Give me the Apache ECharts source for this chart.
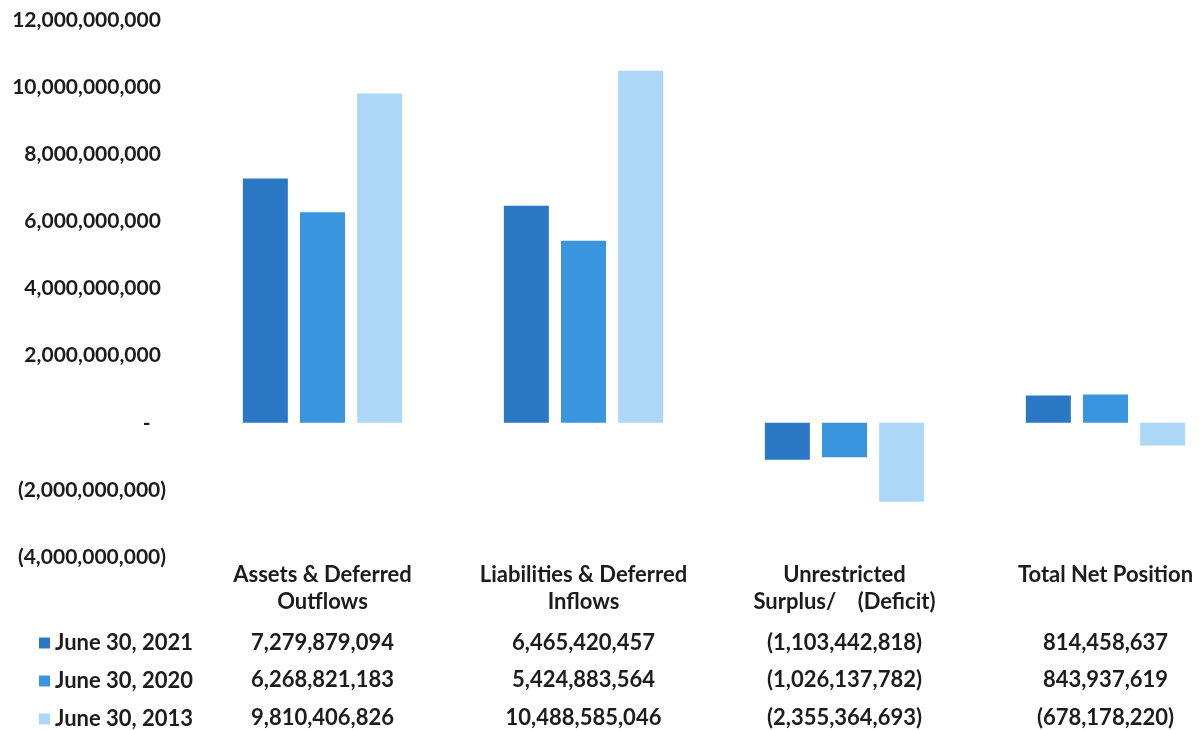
<!DOCTYPE html>
<html>
<head>
<meta charset="utf-8">
<script src="https://cdn.jsdelivr.net/npm/echarts@6/dist/echarts.min.js"></script>
<style>
  html, body { margin: 0; padding: 0; background: #ffffff; overflow: hidden; }
  /* the plot runs slightly past the right edge of the window */
  #chart { width: 1240px; height: 730px; }
</style>
</head>
<body>
<div id="chart"></div>
<script>
// Statement of net position: three reporting dates per line item
const categories = [
  'Assets & Deferred\nOutflows',
  'Liabilities & Deferred\nInflows',
  'Unrestricted\nSurplus/    (Deficit)',
  'Total Net Position'
];
const seriesNames = ['June 30, 2021', 'June 30, 2020', 'June 30, 2013'];
const june2021 = [7279879094, 6465420457, -1103442818, 814458637];
const june2020 = [6268821183, 5424883564, -1026137782, 843937619];
const june2013 = [9810406826, 10488585046, -2355364693, -678178220];
const yMin = -4000000000;
const yMax = 12000000000;
const yStep = 2000000000;

const seriesValues = [june2021, june2020, june2013];
const colors = ['#2a77c4', '#3a95df', '#acd7f7'];
const FONT = 'Lato, "Open Sans", sans-serif';
const INK = '#1c1c1c';

// accounting style: negatives in parentheses, zero as a dash
function grouped(n) {
  return Math.abs(n).toString().replace(/\B(?=(\d{3})+(?!\d))/g, ',');
}
function accounting(n) {
  if (n === 0) return '-   ';
  return n < 0 ? '(' + grouped(n) + ')' : grouped(n) + ' ';
}
function tableCell(n) {
  return n < 0 ? '(' + grouped(n) + ')' : grouped(n);
}

const chart = echarts.init(document.getElementById('chart'), null, { renderer: 'canvas' });

const textStyle = size => ({ fontFamily: FONT, fontWeight: 'bold', fontSize: size, color: INK });

// data-table rows under the category labels, one per reporting date
const rowOffsets = [75, 112, 150];
const tableAxes = seriesValues.map((vals, i) => ({
  type: 'category',
  data: categories,
  gridIndex: 0,
  position: 'bottom',
  offset: rowOffsets[i],
  axisLine: { show: false },
  axisTick: { show: false },
  axisLabel: Object.assign(textStyle(22), {
    interval: 0,
    margin: 0,
    lineHeight: 22,
    verticalAlign: 'top'
  }, {
    formatter: (v, idx) => tableCell(vals[idx])
  })
}));

const legends = seriesNames.map((name, i) => ({
  data: [name],
  left: 34,
  top: 627 + i * 38,
  icon: 'rect',
  itemWidth: 11,
  itemHeight: 11,
  itemGap: 5,
  selectedMode: false,
  textStyle: Object.assign(textStyle(22), { padding: [0, 0, 0, 0] })
}));

chart.setOption({
  animation: false,
  backgroundColor: '#ffffff',
  legend: legends,
  grid: { left: 192, top: 20, right: 4, bottom: 173, containLabel: false },
  xAxis: [{
    type: 'category',
    data: categories,
    position: 'bottom',
    axisLine: { show: false },
    axisTick: { show: false },
    axisLabel: Object.assign(textStyle(22), {
      interval: 0,
      margin: 4,
      lineHeight: 27,
      verticalAlign: 'top'
    })
  }].concat(tableAxes),
  yAxis: {
    type: 'value',
    min: yMin,
    max: yMax,
    interval: yStep,
    axisLine: { show: false },
    axisTick: { show: false },
    splitLine: { show: false },
    axisLabel: Object.assign(textStyle(21), {
      margin: 26,
      formatter: v => accounting(v)
    })
  },
  series: seriesNames.map((name, i) => ({
    name: name,
    type: 'bar',
    data: seriesValues[i],
    barWidth: 45,
    barGap: '27%',
    itemStyle: { color: colors[i] }
  }))
});
</script>
</body>
</html>
